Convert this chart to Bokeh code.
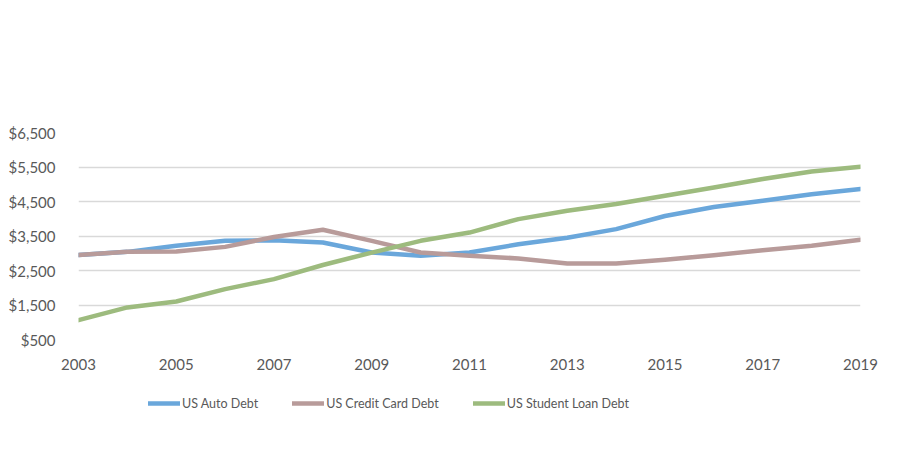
from bokeh.plotting import figure
from bokeh.layouts import column
from bokeh.models import Legend, LegendItem, FixedTicker, NumeralTickFormatter, Range1d, ColumnDataSource
from bokeh.embed import file_html
from bokeh.resources import INLINE

years = list(range(2003, 2020))
auto_debt = [2950, 3040, 3220, 3360, 3380, 3310, 3020, 2930, 3020, 3260, 3450, 3700, 4080, 4340, 4520, 4710, 4860]
credit_card_debt = [2950, 3040, 3050, 3185, 3470, 3680, 3360, 3020, 2925, 2850, 2700, 2700, 2810, 2945, 3090, 3215, 3390]
student_loan_debt = [1060, 1430, 1600, 1960, 2250, 2660, 3020, 3360, 3600, 3990, 4230, 4425, 4665, 4905, 5150, 5370, 5505]
y_ticks = [500, 1500, 2500, 3500, 4500, 5500, 6500]
x_ticks = [2003, 2005, 2007, 2009, 2011, 2013, 2015, 2017, 2019]

names = ["US Auto Debt", "US Credit Card Debt", "US Student Loan Debt"]
colors = ["#6AA7DB", "#B89B9A", "#9DBB7E"]

src = ColumnDataSource(dict(year=years, auto=auto_debt, cc=credit_card_debt, sl=student_loan_debt))

p = figure(frame_width=782, frame_height=207, output_backend="svg", toolbar_location=None,
           x_range=Range1d(2003, 2019), y_range=Range1d(500, 6500),
           min_border_left=78, min_border_right=30, min_border_top=132, min_border_bottom=0)
p.outline_line_color = None
p.background_fill_color = "white"
p.border_fill_color = "white"

for col, c in zip(["auto", "cc", "sl"], colors):
    p.line("year", col, source=src, line_color=c, line_width=4.5, line_cap="round", line_join="round")

font = "Lato"
for ax in (p.xaxis, p.yaxis):
    ax.axis_line_color = None
    ax.major_tick_line_color = None
    ax.minor_tick_line_color = None
    ax.major_label_text_color = "#595959"
    ax.major_label_text_font = font
    ax.major_label_text_font_size = "15px"

p.yaxis.ticker = FixedTicker(ticks=y_ticks)
p.yaxis.formatter = NumeralTickFormatter(format="$0,0")
p.yaxis.major_label_standoff = 17
p.xaxis.ticker = FixedTicker(ticks=x_ticks)
p.xaxis.major_label_standoff = 13

p.xgrid.grid_line_color = None
p.ygrid.grid_line_color = "#D9D9D9"
p.ygrid.grid_line_width = 1.5
p.ygrid.ticker = FixedTicker(ticks=y_ticks)

# legend strip (a separate figure under the chart; its line renderers sit outside its view)
lg = figure(frame_width=890, frame_height=70, output_backend="svg", toolbar_location=None,
            x_axis_type=None, y_axis_type=None, min_border=0,
            x_range=Range1d(0, 1), y_range=Range1d(0, 1))
lg.outline_line_color = None
lg.grid.visible = False
lg_src = ColumnDataSource(dict(x=[5, 6], y=[5, 6]))
items = []
for n, c in zip(names, colors):
    r = lg.line("x", "y", source=lg_src, line_color=c, line_width=4.5, line_cap="round")
    items.append(LegendItem(label=n, renderers=[r]))
legend = Legend(items=items, orientation="horizontal", location=(148, 31),
                label_text_font=font, label_text_font_size="12.5px", label_text_color="#595959",
                glyph_width=32, glyph_height=16, label_standoff=2, spacing=34,
                border_line_color=None, background_fill_alpha=0,
                margin=0, padding=0)
lg.add_layout(legend, "center")

layout = column(p, lg, spacing=0)
open("out.html", "w").write(file_html(layout, INLINE))
